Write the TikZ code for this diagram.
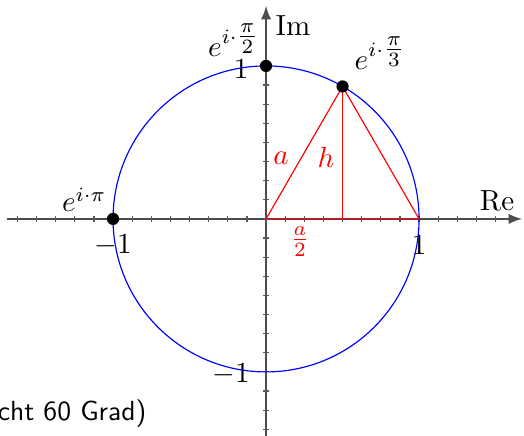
\documentclass[tikz,border=0pt]{standalone}
\usepackage{amsmath}
\begin{document}
\begin{tikzpicture}[x=1.85cm,y=1.85cm]
% Styles
\tikzstyle{axe}=[->,>=latex,draw=black!70,semithick]
\tikzstyle{graduation}=[draw=black!65,thin]
\tikzstyle{point}=[fill=black,circle,inner sep=0pt,minimum size=4.2pt]
\tikzstyle{etiquette}=[inner sep=0pt]
\tikzstyle{cote}=[inner sep=0pt,text=red]
\tikzstyle{triangle}=[draw=red]
% Cadre
\useasboundingbox (-1.739,-1.418) rectangle (1.686,1.431);
% Dimensions
\def\Graduation{0.125}
\def\DemiTrait{0.018}
% Axes
\coordinate (O) at (0,0);
\coordinate (Xg) at (-1.693,0);
\coordinate (Xd) at (1.673,0);
\coordinate (Yb) at (0,-1.46);
\coordinate (Yh) at (0,1.392);
\draw[axe] (Xg)--(Xd);
\draw[axe] (Yb)--(Yh);
\foreach \k in {-13,...,12} {\draw[graduation] ({\k*\Graduation},-\DemiTrait)--({\k*\Graduation},\DemiTrait);}
\foreach \k in {-11,...,8} {\draw[graduation] (-\DemiTrait,{\k*\Graduation})--(\DemiTrait,{\k*\Graduation});}
\node[etiquette] (Re) at (1.51,0.118) {Re};
\node[etiquette] (Im) at (0.176,1.261) {Im};
\node[etiquette] (Xun) at (1,-0.17) {$1$};
\node[etiquette] (Xmoinsun) at (-1,-0.17) {$-1$};
\node[etiquette] (Yun) at (-0.163,0.980) {$1$};
\node[etiquette] (Ymoinsun) at (-0.229,-1.013) {$-1$};
% Cercle
\draw[blue] (O) circle (1);
% Triangle
\coordinate (A) at (1,0);
\coordinate (H) at (0.5,0);
\coordinate (S) at (60:1);
\draw[triangle] (O)--(S)--(A)--cycle;
\draw[triangle] (S)--(H);
\node[cote] (a) at (0.098,0.399) {$a$};
\node[cote] (h) at (0.392,0.405) {$h$};
\node[cote] (demia) at (0.222,-0.150) {$\frac{a}{2}$};
% Points
\node[point] (PiDemi) at (0,1) {};
\node[point] (PiTiers) at (S) {};
\node[point] (Pi) at (-1,0) {};
\node[etiquette,anchor=base east] (ePiDemi) at (-0.039,1.059) {$e^{i\cdot\tfrac{\pi}{2}}$};
\node[etiquette,anchor=base west] (ePiTiers) at (0.575,0.974) {$e^{i\cdot\tfrac{\pi}{3}}$};
\node[etiquette,anchor=base east] (ePi) at (-1.039,0.046) {$e^{i\cdot\pi}$};
% Texte
\node[etiquette,anchor=base east,font=\fontsize{9.5}{11}\sffamily] (Note) at (-0.778,-1.32) {cht 60 Grad)};
\end{tikzpicture}
\end{document}
